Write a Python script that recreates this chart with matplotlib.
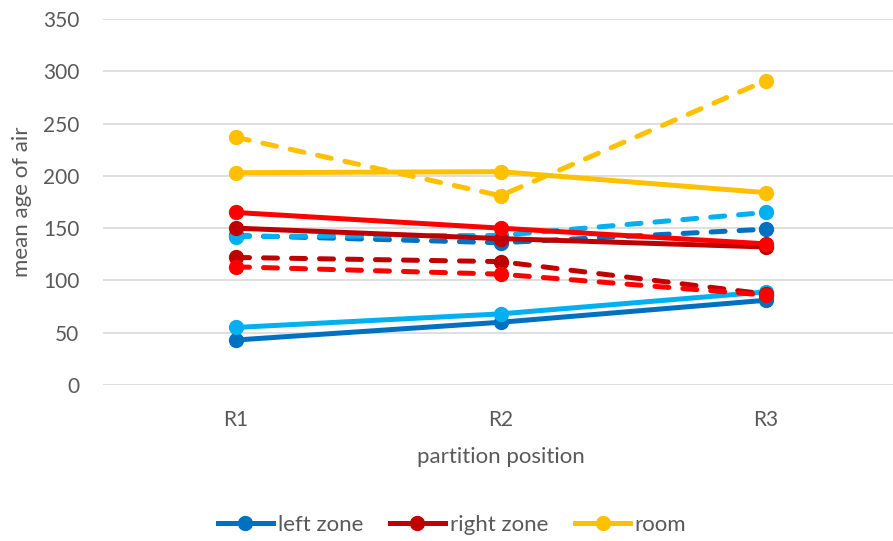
import matplotlib.pyplot as plt
from matplotlib.lines import Line2D

positions = ["R1", "R2", "R3"]

# left zone
left_a = [43, 60, 81]
left_b = [143, 136, 149]
left_c = [55, 68, 89]
left_d = [142, 143, 165]
# right zone
right_a = [150, 140, 132]
right_b = [122, 118, 87]
right_c = [165, 150, 135]
right_d = [113, 106, 86]
# whole room
room_a = [203, 204, 184]
room_b = [237, 181, 291]

DARK_BLUE = "#0070C0"
LIGHT_BLUE = "#00B0F0"
DARK_RED = "#C00000"
RED = "#FF0000"
YELLOW = "#FFC000"
TEXT = "#595959"

plt.rcParams["font.family"] = ["Lato", "DejaVu Sans"]

fig = plt.figure(figsize=(8.93, 5.41), dpi=100)
ax = fig.add_axes([103 / 893, 1 - 385 / 541, 795 / 893, 366 / 541])

series = [
    (left_a, DARK_BLUE, False),
    (left_b, DARK_BLUE, True),
    (left_c, LIGHT_BLUE, False),
    (left_d, LIGHT_BLUE, True),
    (right_a, DARK_RED, False),
    (right_b, DARK_RED, True),
    (right_c, RED, False),
    (right_d, RED, True),
    (room_a, YELLOW, False),
    (room_b, YELLOW, True),
]

x = range(len(positions))
for vals, color, dashed in series:
    line, = ax.plot(x, vals, color=color, lw=3.6, marker="o", markersize=10,
                    solid_capstyle="round", dash_capstyle="round")
    if dashed:
        line.set_dashes((2.8, 2.8))

ax.set_xlim(-0.5, 2.5)
ax.set_ylim(0, 350)
ax.set_yticks(range(0, 351, 50))
ax.set_xticks(list(x))
ax.set_xticklabels(positions)
ax.grid(axis="y", color="#D9D9D9", lw=1.2)
ax.set_axisbelow(True)
for s in ax.spines.values():
    s.set_visible(False)
ax.tick_params(length=0, labelsize=15, colors=TEXT)
ax.tick_params(axis="y", pad=17)
ax.tick_params(axis="x", pad=18)

ax.set_ylabel("mean age of air", fontsize=16, color=TEXT, labelpad=8)
ax.set_xlabel("partition position", fontsize=16, color=TEXT, labelpad=12)

handles = [
    Line2D([], [], color=DARK_BLUE, lw=3.6, marker="o", markersize=10),
    Line2D([], [], color=DARK_RED, lw=3.6, marker="o", markersize=10),
    Line2D([], [], color=YELLOW, lw=3.6, marker="o", markersize=10),
]
leg = fig.legend(handles, ["left zone", "right zone", "room"], loc="center",
                 bbox_to_anchor=(452 / 893, 1 - 525 / 541), ncol=3, frameon=False,
                 fontsize=16, handlelength=2.5, handletextpad=0.2, columnspacing=1.2)
for t in leg.get_texts():
    t.set_color(TEXT)

fig.savefig("out.png", dpi=100)
